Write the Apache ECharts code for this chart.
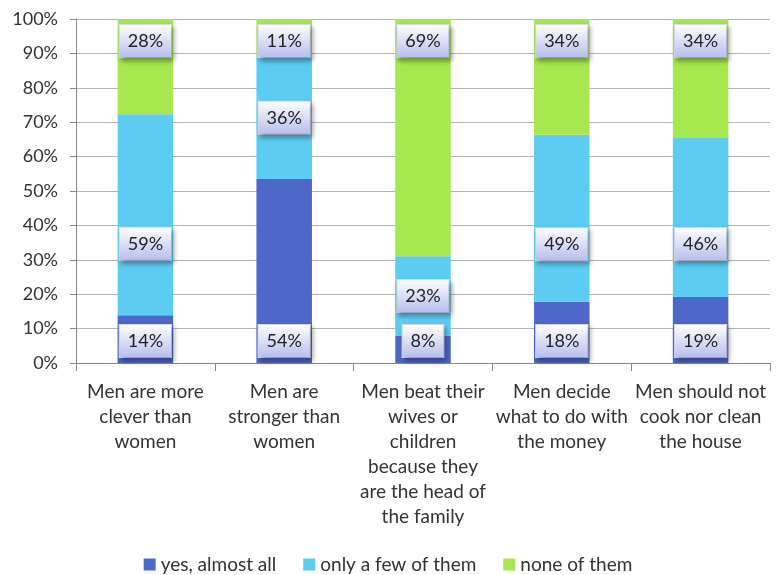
<!DOCTYPE html>
<html>
<head>
<meta charset="utf-8">
<script src="https://cdn.jsdelivr.net/npm/echarts@6/dist/echarts.min.js"></script>
<style>html,body{margin:0;padding:0;background:#fff}#c{width:776px;height:575px}</style>
</head>
<body>
<div id="c"></div>
<script>
const categories = [
  "Men are more\nclever than\nwomen",
  "Men are\nstronger than\nwomen",
  "Men beat their\nwives or\nchildren\nbecause they\nare the head of\nthe family",
  "Men decide\nwhat to do with\nthe money",
  "Men should not\ncook nor clean\nthe house"
];
const seriesNames = ["yes, almost all", "only a few of them", "none of them"];
const yesAlmostAll = [14, 54, 8, 18, 19];
const onlyAFew = [59, 36, 23, 49, 46];
const noneOfThem = [28, 11, 69, 34, 34];
const yTickLabels = ["0%","10%","20%","30%","40%","50%","60%","70%","80%","90%","100%"];

// label vertical offsets (styling only) for the middle series
const midLabelOffsetY = [29, 0, 0, 26, 27];

const totals = categories.map((_, i) => yesAlmostAll[i] + onlyAFew[i] + noneOfThem[i]);
const pct = (arr) => arr.map((v, i) => v / totals[i] * 100);

const FONT = 'Lato, "Open Sans", sans-serif';
const colors = ['#4F67C9', '#5DCCF2', '#A7E74F'];

const labelBase = {
  show: true,
  color: '#222',
  fontFamily: FONT,
  fontSize: 18,
  lineHeight: 20,
  padding: [6, 8, 6, 8],
  backgroundColor: new echarts.graphic.LinearGradient(0, 0, 0, 1, [
    {offset: 0, color: '#FFFFFF'},
    {offset: 1, color: '#B6BDEC'}
  ]),
  borderColor: '#D8DCF2',
  borderWidth: 1,
  shadowColor: 'rgba(0,0,0,0.35)',
  shadowBlur: 5,
  shadowOffsetX: 2,
  shadowOffsetY: 3
};

function buildData(vals, raw, offsets) {
  return vals.map((v, i) => {
    const item = {value: v, raw: raw[i]};
    if (offsets && offsets[i]) item.label = {offset: [0, offsets[i]]};
    return item;
  });
}

const fmt = p => p.data.raw + '%';

const option = {
  animation: false,
  backgroundColor: '#fff',
  grid: {left: 76, right: 6, top: 19, bottom: 212, containLabel: false},
  legend: {
    bottom: -4,
    left: 'center',
    icon: 'rect',
    itemWidth: 12,
    itemHeight: 12,
    itemGap: 27,
    textStyle: {fontFamily: FONT, fontSize: 19, color: '#333'},
    data: seriesNames
  },
  xAxis: {
    type: 'category',
    data: categories,
    axisLine: {show: true, lineStyle: {color: '#888', width: 1}},
    axisTick: {show: true, length: 8, lineStyle: {color: '#888'}},
    axisLabel: {
      interval: 0, margin: 16, fontFamily: FONT, fontSize: 19, lineHeight: 25, color: '#333', align: 'center'
    }
  },
  yAxis: {
    type: 'value',
    min: 0, max: 100, interval: 10,
    axisLine: {show: true, lineStyle: {color: '#888', width: 1}},
    axisTick: {show: true, length: 6, lineStyle: {color: '#888'}},
    splitLine: {show: true, lineStyle: {color: '#B4B4B4', width: 1}},
    axisLabel: {
      margin: 18, fontFamily: FONT, fontSize: 18, color: '#333',
      formatter: (v) => yTickLabels[Math.round(v / 10)]
    }
  },
  series: [
    {
      name: seriesNames[0], type: 'bar', stack: 'total', barWidth: '40%',
      itemStyle: {color: colors[0]},
      label: Object.assign({}, labelBase, {position: 'insideBottom', distance: 6, formatter: fmt}),
      data: buildData(pct(yesAlmostAll), yesAlmostAll)
    },
    {
      name: seriesNames[1], type: 'bar', stack: 'total', barWidth: '40%',
      itemStyle: {color: colors[1]},
      label: Object.assign({}, labelBase, {position: 'inside', formatter: fmt}),
      data: buildData(pct(onlyAFew), onlyAFew, midLabelOffsetY)
    },
    {
      name: seriesNames[2], type: 'bar', stack: 'total', barWidth: '40%',
      itemStyle: {color: colors[2]},
      label: Object.assign({}, labelBase, {position: 'insideTop', distance: 6, formatter: fmt}),
      data: buildData(pct(noneOfThem), noneOfThem)
    }
  ]
};

const chart = echarts.init(document.getElementById('c'), null, {renderer: 'canvas'});
chart.setOption(option);
</script>
</body>
</html>
